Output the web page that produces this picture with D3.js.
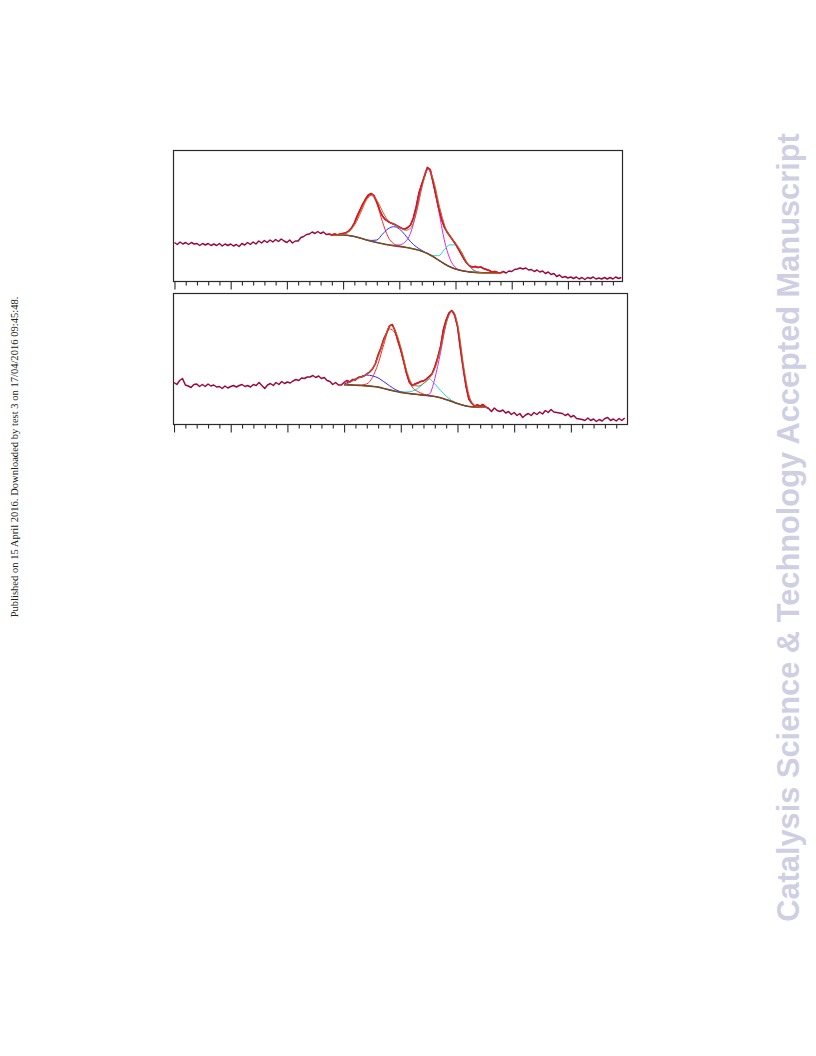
<!DOCTYPE html>
<html>
<head>
<meta charset="utf-8">
<script src="https://cdn.jsdelivr.net/npm/d3@7"></script>
<style>
  html, body { margin: 0; padding: 0; background: #fff; }
  svg { display: block; }
</style>
</head>
<body>
<svg id="chart" width="816" height="1056"></svg>
<script>
// ---------------- DATA ----------------
// raw spectra sampled every 0.25 axis units starting at 0 (40 units, 160 points)
const rawStart = 0;
const rawStep = 0.25;
const raw1 = [
  38.5, 36.5, 39, 37,   38.5, 36.5, 38.5, 37,   37.5, 35.5, 37.5, 36,   37.5, 35.5, 37, 35.5,
  37.5, 35, 37, 35.5,   37, 35, 36.5, 34.5,   37.5, 36, 38.5, 36.5,   39, 37, 40, 38,
  40.5, 38.5, 41, 39,   41.5, 39.5, 42, 40,   38.5, 41, 38, 40,   40, 43.5, 44.5, 46.5,
  47, 49, 47.5, 49.5,   47.5, 49, 46.5, 47,   46, 47, 46, 47,   47.5, 48, 50, 53,
  58, 65, 71, 77,   82, 86, 87.5, 85.5,   79, 71, 65, 61.5,   59.5, 58, 57, 55.5,
  54, 52.5, 52, 53.5,   56, 63, 74, 88,   97, 105, 113.5, 111.5,   99, 86, 73, 62,
  54, 49, 45, 41,   37, 32, 27, 22,   18, 15, 14, 14.5,   13.5, 14, 12.5, 11.5,
  10.5, 9, 9.5, 8.5,   8, 9.5, 8, 10,   9.5, 11.5, 12, 13,   12, 13, 11, 11.5,
  9.5, 11, 9, 10,   7.5, 9, 6.5, 7.5,   4.5, 6, 3.5, 4.5,   3, 4, 2.5, 4,
  2, 3.5, 1.5, 3.5,   2.5, 4, 2, 3,   2, 3.5, 2, 3.5,   2, 4, 2.5, 3.5
];
const raw2 = [
  41.5, 39.5, 43.5, 45.5,   39, 38, 36.5, 39.5,   40, 37.5, 39.5, 37.5,   40, 38, 39, 37,
  37.5, 35.5, 38, 36,   37.5, 38.5, 37, 38.5,   39.5, 37.5, 38.5, 37,   39.5, 38.5, 41.5, 38.5,
  35.5, 39, 40.5, 38.5,   41.5, 39.5, 42.5, 40.5,   42, 41, 43, 44.5,   43.5, 46, 45.5, 47,
  47, 48.5, 46.5, 48,   45.5, 46.5, 43.5, 42.5,   39.5, 41.5, 39, 39,   41.5, 43.5, 42, 44.5,
  44, 46.5, 47, 48,   50, 52, 55, 60,   69, 76, 85, 91,   98, 99.5, 93, 83,
  74, 63, 51, 42,   38.5, 40, 41, 42.5,   43, 45, 47.5, 50,   57, 66, 77, 94,
  104, 111, 113.5, 109,   98, 76, 56, 38,   25, 21, 18, 19,   18, 19.5, 17, 15.5,
  12.5, 16, 13.5, 12.5,   14, 11, 12.5, 9.5,   11.5, 8.5, 10.5, 6.5,   9, 10.5, 8.5, 11.5,
  9.5, 12, 10, 13.5,   11.5, 14.5, 12, 11.5,   11, 10.5, 8.5, 10,   7, 8.5, 5.5, 5,
  4.5, 3.5, 6, 3.5,   5, 2.5, 4.5, 3,   5.5, 6.5, 3.5, 5,   3, 5.5, 3.5, 6
];

// fitted region, panel 1 (x positions of the fit curves)
const fitX1 = [14, 14.5, 15, 15.5, 16, 16.5, 17, 17.5, 18, 18.5, 19, 19.5, 20, 20.5, 21, 21.5,
  22, 22.5, 23, 23.5, 24, 24.5, 25, 25.5, 26, 26.5, 27, 27.5, 28, 28.5, 29];
const bg1 = [46, 46, 46, 45.5, 44.5, 43, 41.3, 39.8, 38.5, 37.3, 36.2, 35.3, 34.6, 33.8, 32.8, 31.5,
  29.8, 27.5, 24.5, 20.8, 17.2, 14.2, 12, 10.5, 9.5, 8.8, 8.4, 8.3, 8.3, 8.3, 8.3];
const peakRed1 = [0, 0.5, 1.5, 5, 13, 26, 40, 46, 39, 22, 8, 2, 0.5, 0, 0, 0,
  0, 0, 0, 0, 0, 0, 0, 0, 0, 0, 0, 0, 0, 0, 0];
const peakBlue1 = [0, 0, 0, 0, 0, 0, 0, 0.8, 2.5, 9.5, 16, 19, 17.5, 12.5, 6.5, 2.8,
  0.8, 0, 0, 0, 0, 0, 0, 0, 0, 0, 0, 0, 0, 0, 0];
const peakMagenta1 = [0, 0, 0, 0, 0, 0, 0, 0, 0, 0, 0, 0.5, 1.5, 5, 15, 37,
  66, 85, 75, 50, 24, 8, 1.5, 0, 0, 0, 0, 0, 0, 0, 0];
const peakCyan1 = [0, 0, 0, 0, 0, 0, 0, 0, 0, 0, 0, 0, 0, 0, 0, 0,
  0, 0, 0.8, 4.5, 14, 22, 24, 18.5, 8.5, 3, 0.8, 0, 0, 0, 0];

// fitted region, panel 2
const fitX2 = [15, 15.5, 16, 16.5, 17, 17.5, 18, 18.5, 19, 19.5, 20, 20.5, 21, 21.5, 22, 22.5,
  23, 23.5, 24, 24.5, 25, 25.5, 26, 26.5, 27, 27.5];
const bg2 = [39.3, 39.1, 38.8, 38.5, 38.1, 37.6, 36.9, 35.5, 34.1, 32.8, 31.6, 30.8, 30.1, 29.5, 28.9, 28.2,
  27.5, 26.2, 24.4, 22.5, 20.5, 18.7, 17.5, 17.1, 17, 17];
const peakBlue2 = [0.5, 3.5, 6.5, 9, 10.8, 10.5, 9.2, 6.8, 4.2, 1.8, 0.6, 0, 0, 0, 0, 0,
  0, 0, 0, 0, 0, 0, 0, 0, 0, 0];
const peakRed2 = [0, 0, 0, 0.5, 2, 9, 23.5, 44, 61, 58, 42, 20, 7, 3, 1, 0.3,
  0, 0, 0, 0, 0, 0, 0, 0, 0, 0];
const peakCyan2 = [0, 0, 0, 0, 0, 0, 0, 0, 0, 0, 0.5, 1.2, 2.8, 6, 11.5, 17,
  12.5, 7.5, 3.5, 1, 0.3, 0, 0, 0, 0, 0];
const peakMagenta2 = [0, 0, 0, 0, 0, 0, 0, 0, 0, 0, 0, 0, 0, 0, 0.3, 1.5,
  18, 45, 76, 90, 76, 38, 10, 1.5, 0.3, 0];

// axis ticks (no labels in the figure)
const majorTicks = [0, 5, 10, 15, 20, 25, 30, 35];
const minorTicks = d3.range(0, 40, 1).filter(v => v % 5 !== 0);

const sideText = "Published on 15 April 2016. Downloaded by test 3 on 17/04/2016 09:45:48.";
const watermarkText = "Catalysis Science & Technology Accepted Manuscript";

// ---------------- DRAWING ----------------
const svg = d3.select("#chart");

const colors = {
  raw: "#990a3c",
  rawFit: "#e0141a",
  env: "#b8642a",
  bg: "#7a4a1c",
  red: "#ff2a2a",
  blue: "#2a2aff",
  magenta: "#e028e0",
  cyan: "#22d4d4",
  frame: "#2a2a2a"
};

function drawPanel(cfg) {
  const x = d3.scaleLinear().domain(cfg.xDomain).range([cfg.left, cfg.right]);
  const y = d3.scaleLinear().domain([0, 131]).range([cfg.bottom, cfg.top]);
  const g = svg.append("g");

  const rawPts = cfg.raw.map((v, i) => [rawStart + i * rawStep, v]);
  const fitLo = cfg.fitX[0], fitHi = cfg.fitX[cfg.fitX.length - 1];
  const lineLin = d3.line().x(d => x(d[0])).y(d => y(d[1]));
  const lineSmooth = d3.line().x(d => x(d[0])).y(d => y(d[1])).curve(d3.curveMonotoneX);

  // raw data (whole range)
  g.append("path").attr("d", lineLin(rawPts))
    .attr("fill", "none").attr("stroke", colors.raw).attr("stroke-width", 1.5)
    .attr("stroke-linejoin", "round");

  // components
  const comps = cfg.peaks;
  comps.forEach(p => {
    const pts = cfg.fitX.map((xv, i) => [xv, cfg.bg[i] + p.values[i]]);
    g.append("path").attr("d", lineSmooth(pts))
      .attr("fill", "none").attr("stroke", p.color).attr("stroke-width", 1);
  });

  // background
  const bgPts = cfg.fitX.map((xv, i) => [xv, cfg.bg[i]]);
  g.append("path").attr("d", lineSmooth(bgPts))
    .attr("fill", "none").attr("stroke", colors.bg).attr("stroke-width", 1.6);

  // raw data inside fit region
  const inFit = rawPts.filter(d => d[0] >= fitLo - 0.3 && d[0] <= fitHi + 0.3);
  g.append("path").attr("d", lineLin(inFit))
    .attr("fill", "none").attr("stroke", colors.rawFit).attr("stroke-width", 1.4)
    .attr("stroke-linejoin", "round");

  // envelope = background + sum of components
  const envPts = cfg.fitX.map((xv, i) => [xv, cfg.bg[i] + d3.sum(comps, p => p.values[i])]);
  g.append("path").attr("d", lineSmooth(envPts))
    .attr("fill", "none").attr("stroke", colors.env).attr("stroke-width", 1)
    .attr("transform", "translate(0.8,0.6)");

  // frame
  g.append("rect")
    .attr("x", cfg.left + 0.5).attr("y", cfg.top + 0.5)
    .attr("width", cfg.right - cfg.left).attr("height", cfg.bottom - cfg.top)
    .attr("fill", "none").attr("stroke", colors.frame).attr("stroke-width", 1.2);

  // ticks
  const axMajor = d3.axisBottom(x).tickValues(majorTicks).tickSize(8).tickFormat("");
  const axMinor = d3.axisBottom(x).tickValues(minorTicks).tickSize(4).tickFormat("");
  [axMajor, axMinor].forEach(ax => {
    const a = g.append("g").attr("transform", `translate(0,${cfg.bottom + 0.5})`).call(ax);
    a.select(".domain").remove();
    a.selectAll("line").attr("stroke", colors.frame).attr("stroke-width", 1.1);
  });
}

drawPanel({
  left: 173, right: 622, top: 150, bottom: 281,
  xDomain: [-0.13, 39.81],
  raw: raw1, fitX: fitX1, bg: bg1,
  peaks: [
    { values: peakRed1, color: colors.red },
    { values: peakBlue1, color: colors.blue },
    { values: peakMagenta1, color: colors.magenta },
    { values: peakCyan1, color: colors.cyan }
  ]
});

drawPanel({
  left: 173, right: 627, top: 293, bottom: 424,
  xDomain: [-0.09, 39.95],
  raw: raw2, fitX: fitX2, bg: bg2,
  peaks: [
    { values: peakBlue2, color: colors.blue },
    { values: peakRed2, color: colors.red },
    { values: peakCyan2, color: colors.cyan },
    { values: peakMagenta2, color: colors.magenta }
  ]
});

// side note (left margin)
const side = svg.append("text")
  .attr("transform", "translate(17.5,457) rotate(-90)")
  .attr("text-anchor", "middle")
  .attr("font-family", "'Liberation Serif', 'Times New Roman', serif")
  .attr("font-size", 10)
  .attr("fill", "#222")
  .text(sideText);
const sideLen = side.node().getComputedTextLength();
side.attr("font-size", 10 * 321 / sideLen);

// watermark (right margin)
const wm = svg.append("text")
  .attr("transform", "translate(799,527.5) rotate(-90)")
  .attr("text-anchor", "middle")
  .attr("font-family", "'Liberation Sans', Arial, sans-serif")
  .attr("font-weight", "bold")
  .attr("font-size", 30)
  .attr("fill", "#cfcfe4")
  .text(watermarkText);
const wmLen = wm.node().getComputedTextLength();
wm.attr("font-size", 30 * 789 / wmLen);
</script>
</body>
</html>
